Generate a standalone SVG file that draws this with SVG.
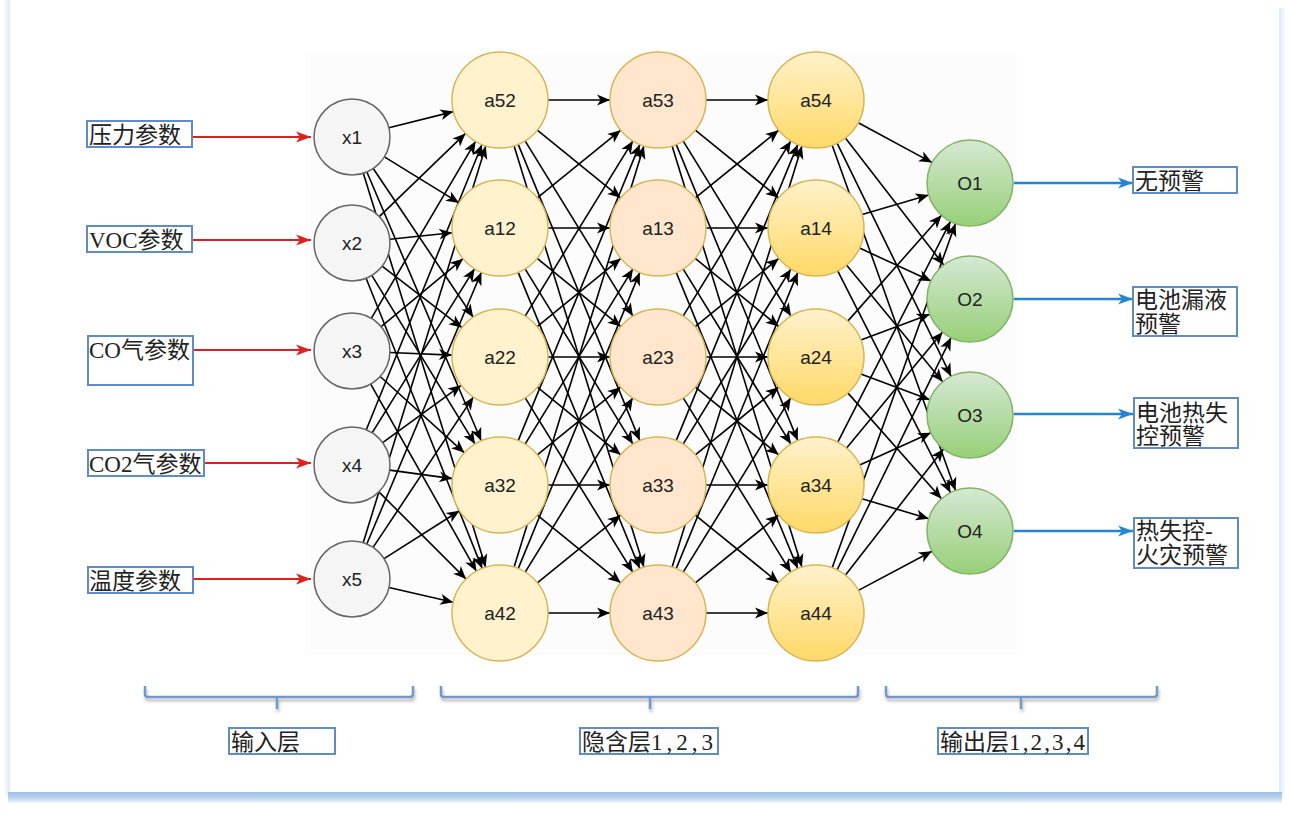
<svg xmlns="http://www.w3.org/2000/svg" width="1290" height="815" viewBox="0 0 1290 815">
<style>
.e{stroke:#000;stroke-width:1.6;fill:none;marker-end:url(#ak)}
.red{stroke:#e0201e;stroke-width:2.2;fill:none;marker-end:url(#ar)}
.blue{stroke:#2585d4;stroke-width:2.4;fill:none;marker-end:url(#abl)}
.nx{fill:#f5f5f5;stroke:#666;stroke-width:1.5}
.na{fill:#fff2cc;stroke:#d6b656;stroke-width:1.5}
.nb{fill:#ffe6cc;stroke:#d6b656;stroke-width:1.5}
.nc{fill:url(#gGold);stroke:#d6b656;stroke-width:1.5}
.no{fill:url(#gGreen);stroke:#82b366;stroke-width:1.5}
.nt{font-family:"Liberation Sans",Arial,sans-serif;font-size:19px;fill:#222;text-anchor:middle}
.box{fill:#fff;stroke:#5f8cc8;stroke-width:2}
.lbl{font-family:"Liberation Serif","Noto Sans CJK SC",serif;font-size:23px;fill:#222}
.brace{fill:none;stroke:#7397c7;stroke-width:2.5;filter:url(#sh)}
</style>
<defs>
<marker id="ak" markerUnits="userSpaceOnUse" markerWidth="14" markerHeight="11" refX="13" refY="5.5" orient="auto" overflow="visible"><path d="M0,0 L13,5.5 L0,11 L3.5,5.5 z" fill="#000"/></marker>
<marker id="ar" markerUnits="userSpaceOnUse" markerWidth="16" markerHeight="12" refX="15" refY="6" orient="auto" overflow="visible"><path d="M0,0.5 L15,6 L0,11.5 L4,6 z" fill="#e0201e"/></marker>
<marker id="abl" markerUnits="userSpaceOnUse" markerWidth="16" markerHeight="12" refX="15" refY="6" orient="auto" overflow="visible"><path d="M0,0.5 L15,6 L0,11.5 L4,6 z" fill="#2585d4"/></marker>
<linearGradient id="gGold" x1="0" y1="0" x2="0" y2="1"><stop offset="0" stop-color="#fff2cc"/><stop offset="1" stop-color="#ffd966"/></linearGradient>
<linearGradient id="gGreen" x1="0" y1="0" x2="0" y2="1"><stop offset="0" stop-color="#d5e8d4"/><stop offset="1" stop-color="#97d077"/></linearGradient>
<linearGradient id="gB" x1="0" y1="0" x2="0" y2="1"><stop offset="0" stop-color="#99bfe4"/><stop offset="0.6" stop-color="#c2d9f0"/><stop offset="1" stop-color="#f4f8fd"/></linearGradient>
<linearGradient id="gL" x1="0" y1="0" x2="1" y2="0"><stop offset="0" stop-color="#ffffff"/><stop offset="1" stop-color="#dde9f6"/></linearGradient>
<linearGradient id="gR" x1="0" y1="0" x2="1" y2="0"><stop offset="0" stop-color="#dce8f6"/><stop offset="1" stop-color="#ffffff"/></linearGradient>
<filter id="sh" x="-5%" y="-50%" width="110%" height="250%"><feDropShadow dx="1" dy="3" stdDeviation="1.5" flood-color="#000" flood-opacity="0.3"/></filter>
</defs>

<rect x="0" y="0" width="1290" height="815" fill="#fff"/>
<rect x="3" y="0" width="7" height="795" fill="url(#gL)"/>
<rect x="1279" y="8" width="7" height="787" fill="url(#gR)"/>
<rect x="10" y="0" width="1269" height="792" fill="#fff"/>
<rect x="8" y="792" width="1274" height="11" fill="url(#gB)"/>
<rect x="305" y="55" width="712" height="600" fill="#fcfcfc"/>

<g id="connectors">
<line class="red" x1="192" y1="137" x2="311" y2="137"/>
<line class="red" x1="192" y1="240" x2="311" y2="240"/>
<line class="red" x1="193" y1="350" x2="311" y2="350"/>
<line class="red" x1="204" y1="463" x2="311" y2="463"/>
<line class="red" x1="193" y1="579" x2="311" y2="579"/>

<line class="e" x1="388.9" y1="127.8" x2="453.4" y2="111.6"/>
<line class="e" x1="384.4" y1="156.9" x2="459.1" y2="202.9"/>
<line class="e" x1="373.2" y1="168.5" x2="473.2" y2="317.2"/>
<line class="e" x1="366.9" y1="172.0" x2="481.2" y2="440.8"/>
<line class="e" x1="363.3" y1="173.3" x2="485.7" y2="567.2"/>
<line class="e" x1="379.3" y1="216.6" x2="465.5" y2="133.4"/>
<line class="e" x1="389.8" y1="239.2" x2="452.2" y2="232.8"/>
<line class="e" x1="382.1" y1="266.2" x2="462.0" y2="327.7"/>
<line class="e" x1="371.8" y1="275.4" x2="475.0" y2="444.1"/>
<line class="e" x1="366.1" y1="278.3" x2="482.2" y2="568.4"/>
<line class="e" x1="371.3" y1="318.3" x2="475.6" y2="141.3"/>
<line class="e" x1="381.2" y1="326.7" x2="463.1" y2="258.7"/>
<line class="e" x1="390.0" y1="352.5" x2="452.0" y2="355.1"/>
<line class="e" x1="380.2" y1="376.5" x2="464.4" y2="452.8"/>
<line class="e" x1="370.7" y1="384.1" x2="476.4" y2="571.2"/>
<line class="e" x1="366.3" y1="429.8" x2="482.0" y2="144.5"/>
<line class="e" x1="372.1" y1="432.8" x2="474.6" y2="268.7"/>
<line class="e" x1="382.7" y1="442.6" x2="461.2" y2="385.3"/>
<line class="e" x1="389.7" y1="470.1" x2="452.4" y2="478.6"/>
<line class="e" x1="378.9" y1="491.9" x2="466.1" y2="579.1"/>
<line class="e" x1="363.2" y1="542.7" x2="485.8" y2="145.9"/>
<line class="e" x1="366.8" y1="544.0" x2="481.4" y2="272.2"/>
<line class="e" x1="373.1" y1="547.4" x2="473.4" y2="396.9"/>
<line class="e" x1="384.1" y1="558.6" x2="459.5" y2="510.7"/>
<line class="e" x1="389.0" y1="587.5" x2="453.2" y2="602.3"/>

<line class="e" x1="548" y1="100" x2="610" y2="100"/>
<line class="e" x1="537.3" y1="130.2" x2="620.7" y2="197.8"/>
<line class="e" x1="525.1" y1="140.9" x2="632.9" y2="316.1"/>
<line class="e" x1="518.2" y1="144.4" x2="639.8" y2="440.6"/>
<line class="e" x1="514.1" y1="145.9" x2="643.9" y2="567.1"/>
<line class="e" x1="537.3" y1="197.8" x2="620.7" y2="130.2"/>
<line class="e" x1="548" y1="228" x2="610" y2="228"/>
<line class="e" x1="537.2" y1="258.4" x2="620.8" y2="326.6"/>
<line class="e" x1="525.1" y1="268.9" x2="632.9" y2="444.1"/>
<line class="e" x1="518.2" y1="272.4" x2="639.8" y2="568.6"/>
<line class="e" x1="525.1" y1="316.1" x2="632.9" y2="140.9"/>
<line class="e" x1="537.2" y1="326.6" x2="620.8" y2="258.4"/>
<line class="e" x1="548" y1="357" x2="610" y2="357"/>
<line class="e" x1="537.3" y1="387.2" x2="620.7" y2="454.8"/>
<line class="e" x1="525.2" y1="397.8" x2="632.8" y2="572.2"/>
<line class="e" x1="518.2" y1="440.6" x2="639.8" y2="144.4"/>
<line class="e" x1="525.1" y1="444.1" x2="632.9" y2="268.9"/>
<line class="e" x1="537.3" y1="454.8" x2="620.7" y2="387.2"/>
<line class="e" x1="548" y1="485" x2="610" y2="485"/>
<line class="e" x1="537.3" y1="515.2" x2="620.7" y2="582.8"/>
<line class="e" x1="514.1" y1="567.1" x2="643.9" y2="145.9"/>
<line class="e" x1="518.2" y1="568.6" x2="639.8" y2="272.4"/>
<line class="e" x1="525.2" y1="572.2" x2="632.8" y2="397.8"/>
<line class="e" x1="537.3" y1="582.8" x2="620.7" y2="515.2"/>
<line class="e" x1="548" y1="613" x2="610" y2="613"/>

<line class="e" x1="706" y1="100" x2="768" y2="100"/>
<line class="e" x1="695.3" y1="130.2" x2="778.7" y2="197.8"/>
<line class="e" x1="683.1" y1="140.9" x2="790.9" y2="316.1"/>
<line class="e" x1="676.2" y1="144.4" x2="797.8" y2="440.6"/>
<line class="e" x1="672.1" y1="145.9" x2="801.9" y2="567.1"/>
<line class="e" x1="695.3" y1="197.8" x2="778.7" y2="130.2"/>
<line class="e" x1="706" y1="228" x2="768" y2="228"/>
<line class="e" x1="695.2" y1="258.4" x2="778.8" y2="326.6"/>
<line class="e" x1="683.1" y1="268.9" x2="790.9" y2="444.1"/>
<line class="e" x1="676.2" y1="272.4" x2="797.8" y2="568.6"/>
<line class="e" x1="683.1" y1="316.1" x2="790.9" y2="140.9"/>
<line class="e" x1="695.2" y1="326.6" x2="778.8" y2="258.4"/>
<line class="e" x1="706" y1="357" x2="768" y2="357"/>
<line class="e" x1="695.3" y1="387.2" x2="778.7" y2="454.8"/>
<line class="e" x1="683.2" y1="397.8" x2="790.8" y2="572.2"/>
<line class="e" x1="676.2" y1="440.6" x2="797.8" y2="144.4"/>
<line class="e" x1="683.1" y1="444.1" x2="790.9" y2="268.9"/>
<line class="e" x1="695.3" y1="454.8" x2="778.7" y2="387.2"/>
<line class="e" x1="706" y1="485" x2="768" y2="485"/>
<line class="e" x1="695.3" y1="515.2" x2="778.7" y2="582.8"/>
<line class="e" x1="672.1" y1="567.1" x2="801.9" y2="145.9"/>
<line class="e" x1="676.2" y1="568.6" x2="797.8" y2="272.4"/>
<line class="e" x1="683.2" y1="572.2" x2="790.8" y2="397.8"/>
<line class="e" x1="695.3" y1="582.8" x2="778.7" y2="515.2"/>
<line class="e" x1="706" y1="613" x2="768" y2="613"/>

<line class="e" x1="858.3" y1="122.8" x2="932.1" y2="162.6"/>
<line class="e" x1="845.4" y1="138.0" x2="943.7" y2="265.0"/>
<line class="e" x1="837.1" y1="143.1" x2="951.1" y2="376.4"/>
<line class="e" x1="832.2" y1="145.2" x2="955.5" y2="490.5"/>
<line class="e" x1="862.1" y1="214.5" x2="928.7" y2="195.1"/>
<line class="e" x1="859.6" y1="248.1" x2="931.0" y2="281.0"/>
<line class="e" x1="846.5" y1="265.1" x2="942.7" y2="381.8"/>
<line class="e" x1="837.7" y1="270.8" x2="950.5" y2="492.7"/>
<line class="e" x1="847.8" y1="321.1" x2="941.5" y2="215.2"/>
<line class="e" x1="860.9" y1="340.1" x2="929.8" y2="314.2"/>
<line class="e" x1="860.9" y1="373.9" x2="929.8" y2="399.8"/>
<line class="e" x1="847.8" y1="392.9" x2="941.5" y2="498.8"/>
<line class="e" x1="837.8" y1="442.2" x2="950.5" y2="221.3"/>
<line class="e" x1="846.6" y1="448.0" x2="942.6" y2="332.1"/>
<line class="e" x1="859.7" y1="465.1" x2="930.9" y2="432.8"/>
<line class="e" x1="862.0" y1="498.7" x2="928.8" y2="518.7"/>
<line class="e" x1="832.2" y1="567.8" x2="955.5" y2="223.5"/>
<line class="e" x1="837.1" y1="569.9" x2="951.1" y2="337.6"/>
<line class="e" x1="845.5" y1="575.1" x2="943.6" y2="448.9"/>
<line class="e" x1="858.4" y1="590.4" x2="932.0" y2="551.2"/>

<line class="blue" x1="1014" y1="183" x2="1133" y2="183"/>
<line class="blue" x1="1014" y1="299" x2="1133" y2="299"/>
<line class="blue" x1="1014" y1="414" x2="1133" y2="414"/>
<line class="blue" x1="1014" y1="531" x2="1133" y2="531"/>
</g>

<g id="x1"><circle class="nx" cx="352" cy="137" r="38"/><text class="nt" x="352" y="144">x1</text></g>
<g id="x2"><circle class="nx" cx="352" cy="243" r="38"/><text class="nt" x="352" y="250">x2</text></g>
<g id="x3"><circle class="nx" cx="352" cy="351" r="38"/><text class="nt" x="352" y="358">x3</text></g>
<g id="x4"><circle class="nx" cx="352" cy="465" r="38"/><text class="nt" x="352" y="472">x4</text></g>
<g id="x5"><circle class="nx" cx="352" cy="579" r="38"/><text class="nt" x="352" y="586">x5</text></g>

<g id="a52"><circle class="na" cx="500" cy="100" r="48"/><text class="nt" x="500" y="107">a52</text></g>
<g id="a12"><circle class="na" cx="500" cy="228" r="48"/><text class="nt" x="500" y="235">a12</text></g>
<g id="a22"><circle class="na" cx="500" cy="357" r="48"/><text class="nt" x="500" y="364">a22</text></g>
<g id="a32"><circle class="na" cx="500" cy="485" r="48"/><text class="nt" x="500" y="492">a32</text></g>
<g id="a42"><circle class="na" cx="500" cy="613" r="48"/><text class="nt" x="500" y="620">a42</text></g>

<g id="a53"><circle class="nb" cx="658" cy="100" r="48"/><text class="nt" x="658" y="107">a53</text></g>
<g id="a13"><circle class="nb" cx="658" cy="228" r="48"/><text class="nt" x="658" y="235">a13</text></g>
<g id="a23"><circle class="nb" cx="658" cy="357" r="48"/><text class="nt" x="658" y="364">a23</text></g>
<g id="a33"><circle class="nb" cx="658" cy="485" r="48"/><text class="nt" x="658" y="492">a33</text></g>
<g id="a43"><circle class="nb" cx="658" cy="613" r="48"/><text class="nt" x="658" y="620">a43</text></g>

<g id="a54"><circle class="nc" cx="816" cy="100" r="48"/><text class="nt" x="816" y="107">a54</text></g>
<g id="a14"><circle class="nc" cx="816" cy="228" r="48"/><text class="nt" x="816" y="235">a14</text></g>
<g id="a24"><circle class="nc" cx="816" cy="357" r="48"/><text class="nt" x="816" y="364">a24</text></g>
<g id="a34"><circle class="nc" cx="816" cy="485" r="48"/><text class="nt" x="816" y="492">a34</text></g>
<g id="a44"><circle class="nc" cx="816" cy="613" r="48"/><text class="nt" x="816" y="620">a44</text></g>

<g id="O1"><circle class="no" cx="970" cy="183" r="43"/><text class="nt" x="970" y="190">O1</text></g>
<g id="O2"><circle class="no" cx="970" cy="299" r="43"/><text class="nt" x="970" y="306">O2</text></g>
<g id="O3"><circle class="no" cx="970" cy="415" r="43"/><text class="nt" x="970" y="422">O3</text></g>
<g id="O4"><circle class="no" cx="970" cy="531" r="43"/><text class="nt" x="970" y="538">O4</text></g>

<g id="in-pressure"><rect class="box" x="87" y="121" width="105" height="26"/><text class="lbl" x="89" y="143">压力参数</text></g>
<g id="in-voc"><rect class="box" x="87" y="226" width="105" height="26"/><text class="lbl" x="89" y="248">VOC参数</text></g>
<g id="in-co"><rect class="box" x="88" y="336" width="105" height="49"/><text class="lbl" x="89" y="358">CO气参数</text></g>
<g id="in-co2"><rect class="box" x="88" y="450" width="116" height="26"/><text class="lbl" x="89" y="472">CO2气参数</text></g>
<g id="in-temp"><rect class="box" x="88" y="567" width="105" height="26"/><text class="lbl" x="89" y="589">温度参数</text></g>

<g id="out-none"><rect class="box" x="1133" y="167" width="104" height="26"/><text class="lbl" x="1135" y="189">无预警</text></g>
<g id="out-leak"><rect class="box" x="1133" y="287" width="104" height="49"/><text class="lbl" x="1135" y="308">电池漏液</text><text class="lbl" x="1135" y="332">预警</text></g>
<g id="out-thermal"><rect class="box" x="1134" y="398" width="104" height="50"/><text class="lbl" x="1136" y="421">电池热失</text><text class="lbl" x="1136" y="444">控预警</text></g>
<g id="out-fire"><rect class="box" x="1134" y="518" width="104" height="50"/><text class="lbl" x="1136" y="539">热失控-</text><text class="lbl" x="1136" y="563">火灾预警</text></g>

<g id="brace-input"><path class="brace" d="M145,686 V694 Q145,697 148,697 H410 Q413,697 413,694 V686 M277,697 V709"/></g>
<g id="brace-hidden"><path class="brace" d="M441,686 V694 Q441,697 444,697 H855 Q858,697 858,694 V686 M650,697 V709"/></g>
<g id="brace-output"><path class="brace" d="M886,686 V694 Q886,697 889,697 H1154 Q1157,697 1157,694 V686 M1021,697 V709"/></g>

<g id="label-input"><rect class="box" x="229" y="728" width="106" height="26"/><text class="lbl" x="231" y="750">输入层</text></g>
<g id="label-hidden"><rect class="box" x="580" y="728" width="138" height="26"/><text class="lbl" x="582" y="750">隐含层<tspan textLength="62">1,2,3</tspan></text></g>
<g id="label-output"><rect class="box" x="938" y="728" width="150" height="26"/><text class="lbl" x="940" y="750">输出层<tspan textLength="76">1,2,3,4</tspan></text></g>
</svg>
